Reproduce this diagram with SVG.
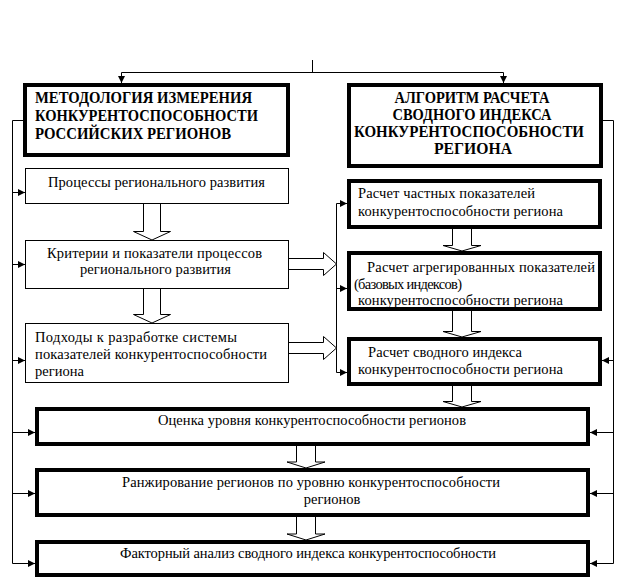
<svg xmlns="http://www.w3.org/2000/svg" width="625" height="578" viewBox="0 0 625 578">
<style>
.big{fill:#fff;stroke:#000;stroke-width:4}
.thin{fill:#fff;stroke:#000;stroke-width:1}
.hol{fill:#fff;stroke:#000;stroke-width:1}
.ln{fill:none;stroke:#000;stroke-width:1}
.arr{marker-end:url(#ah)}
.t{font-family:'Liberation Serif','DejaVu Serif','Times New Roman',serif;font-size:14.5px;fill:#000}
.b{font-family:'Liberation Serif','DejaVu Serif','Times New Roman',serif;font-size:16px;font-weight:bold;fill:#000}
.m{text-anchor:middle}
</style>
<defs>
<marker id="ah" markerUnits="userSpaceOnUse" markerWidth="7" markerHeight="7" refX="7" refY="3.5" orient="auto">
<path d="M0,0 L7,3.5 L0,7 z" fill="#000"/>
</marker>
</defs>
<rect width="625" height="578" fill="#fff"/>

<g id="connectors">
<path class="ln" d="M312.5,60 V72.5 M121.5,72.5 H503.5"/>
<path class="ln arr" d="M121.5,72.5 V83"/>
<path class="ln arr" d="M503.5,72.5 V83"/>
<path class="ln arr" d="M23,120.5 H12.5 V563.5 H35"/>
<path class="ln arr" d="M12.5,192.5 H25"/>
<path class="ln arr" d="M12.5,264.5 H25"/>
<path class="ln arr" d="M12.5,360.5 H25"/>
<path class="ln arr" d="M12.5,432.5 H35"/>
<path class="ln arr" d="M12.5,493.5 H35"/>
<path class="ln arr" d="M603,120.5 H613.5 V563.5 H590"/>
<path class="ln arr" d="M613.5,360.5 H602"/>
<path class="ln arr" d="M613.5,432.5 H590"/>
<path class="ln arr" d="M613.5,493.5 H590"/>
<path class="ln arr" d="M336.5,203.5 H347"/>
<path class="ln arr" d="M336.5,288.5 H347"/>
<path class="ln arr" d="M336.5,203.5 V372.5 H347"/>
<path class="hol" d="M289,258.5 H323.5 V252.5 L336.5,264 L323.5,275.5 V269.5 H289"/>
<path class="hol" d="M289,342.5 H323.5 V336.5 L336.5,348 L323.5,359.5 V353.5 H289"/>
<path class="hol" d="M143.5,204 V231.5 H133.5 L152,240 L170.5,231.5 H160.5 V204"/>
<path class="hol" d="M143.5,289 V314.5 H133.5 L152,323 L170.5,314.5 H160.5 V289"/>
<path class="hol" d="M452.5,229 V245.5 H443 L462,251 L481,245.5 H471.5 V229"/>
<path class="hol" d="M452.5,311 V331.5 H443 L462,337 L481,331.5 H471.5 V311"/>
<path class="hol" d="M452.5,386 V401.5 H443 L462,407 L481,401.5 H471.5 V386"/>
<path class="hol" d="M296.5,446 V462 H287 L306,468 L325,462 H315.5 V446"/>
<path class="hol" d="M296.5,517 V534 H287 L306,540 L325,534 H315.5 V517"/>
</g>

<g id="method">
<rect class="big" x="25" y="85" width="263" height="70"/>
<text class="b" x="35" y="103" textLength="217" lengthAdjust="spacingAndGlyphs">МЕТОДОЛОГИЯ ИЗМЕРЕНИЯ</text>
<text class="b" x="35" y="121" textLength="223" lengthAdjust="spacingAndGlyphs">КОНКУРЕНТОСПОСОБНОСТИ</text>
<text class="b" x="35" y="139" textLength="196" lengthAdjust="spacingAndGlyphs">РОССИЙСКИХ РЕГИОНОВ</text>
</g>

<g id="algorithm">
<rect class="big" x="349" y="85" width="252" height="81"/>
<text class="b m" x="472" y="103" textLength="155" lengthAdjust="spacingAndGlyphs">АЛГОРИТМ РАСЧЕТА</text>
<text class="b m" x="472" y="120" textLength="159" lengthAdjust="spacingAndGlyphs">СВОДНОГО ИНДЕКСА</text>
<text class="b m" x="469" y="137" textLength="230" lengthAdjust="spacingAndGlyphs">КОНКУРЕНТОСПОСОБНОСТИ</text>
<text class="b m" x="473" y="154" textLength="78" lengthAdjust="spacingAndGlyphs">РЕГИОНА</text>
</g>

<g id="processes">
<rect class="thin" x="25.5" y="168.5" width="263" height="35"/>
<text class="t" x="48" y="187" textLength="217" lengthAdjust="spacing">Процессы регионального развития</text>
</g>

<g id="criteria">
<rect class="thin" x="25.5" y="240.5" width="263" height="48"/>
<text class="t" x="47" y="257.5" textLength="215" lengthAdjust="spacing">Критерии  и показатели процессов</text>
<text class="t" x="80" y="274" textLength="151" lengthAdjust="spacing">регионального развития</text>
</g>

<g id="approaches">
<rect class="thin" x="25.5" y="323.5" width="263" height="59"/>
<text class="t" x="35" y="341.5" textLength="202" lengthAdjust="spacing">Подходы к разработке  системы</text>
<text class="t" x="35" y="358.5" textLength="232" lengthAdjust="spacing">показателей  конкурентоспособности</text>
<text class="t" x="35" y="375.5">региона</text>
</g>

<g id="partial">
<rect class="big" x="349" y="181" width="251" height="46"/>
<text class="t" x="358" y="197.5" textLength="177" lengthAdjust="spacing">Расчет частных показателей</text>
<text class="t" x="358" y="215.5" textLength="205" lengthAdjust="spacing">конкурентоспособности региона</text>
</g>

<g id="aggregated">
<rect class="big" x="349" y="253" width="251" height="56"/>
<text class="t" x="367" y="271.5" textLength="228" lengthAdjust="spacing">Расчет агрегированных показателей</text>
<text class="t" x="354" y="288.5" textLength="108" lengthAdjust="spacing">(базовых индексов)</text>
<text class="t" x="358" y="305" textLength="205" lengthAdjust="spacing">конкурентоспособности региона</text>
</g>

<g id="summary">
<rect class="big" x="349" y="339" width="251" height="45"/>
<text class="t" x="368" y="356.5" textLength="154" lengthAdjust="spacing">Расчет сводного индекса</text>
<text class="t" x="358" y="373.5" textLength="205" lengthAdjust="spacing">конкурентоспособности региона</text>
</g>

<g id="assessment">
<rect class="big" x="37" y="409" width="551" height="35"/>
<text class="t" x="158" y="425" textLength="308" lengthAdjust="spacing">Оценка уровня конкурентоспособности регионов</text>
</g>

<g id="ranking">
<rect class="big" x="37" y="470" width="551" height="45"/>
<text class="t" x="122" y="486.5" textLength="378" lengthAdjust="spacing">Ранжирование регионов по уровню конкурентоспособности</text>
<text class="t m" x="332" y="503.5">регионов</text>
</g>

<g id="factor">
<rect class="big" x="37" y="542" width="551" height="33"/>
<text class="t" x="120" y="557.5" textLength="376" lengthAdjust="spacing">Факторный анализ сводного индекса конкурентоспособности</text>
</g>
</svg>
